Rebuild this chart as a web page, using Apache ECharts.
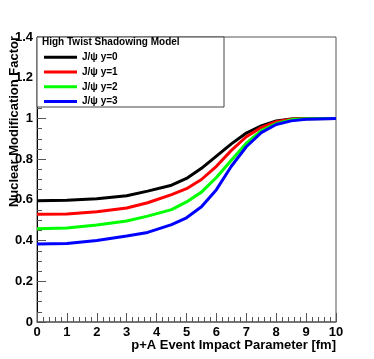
<!DOCTYPE html>
<html>
<head>
<meta charset="utf-8">
<script src="https://cdn.jsdelivr.net/npm/echarts@6/dist/echarts.min.js"></script>
<style>html,body{margin:0;padding:0;background:#fff}#c{width:374px;height:359px}</style>
</head>
<body>
<div id="c"></div>
<script>
var impactParams = [0, 1, 2, 3, 3.7, 4.5, 5, 5.5, 6, 6.5, 7, 7.5, 8, 8.5, 9, 10];
var y0 = [0.596, 0.598, 0.606, 0.620, 0.643, 0.672, 0.705, 0.755, 0.815, 0.875, 0.928, 0.963, 0.988, 0.997, 1.000, 1.000];
var y1 = [0.529, 0.530, 0.542, 0.560, 0.586, 0.626, 0.655, 0.700, 0.765, 0.843, 0.910, 0.955, 0.984, 0.996, 0.999, 1.000];
var y2 = [0.458, 0.462, 0.476, 0.496, 0.520, 0.552, 0.590, 0.638, 0.710, 0.795, 0.878, 0.940, 0.975, 0.993, 0.998, 1.000];
var y3 = [0.383, 0.386, 0.400, 0.422, 0.440, 0.478, 0.512, 0.566, 0.650, 0.765, 0.861, 0.930, 0.970, 0.988, 0.996, 1.000];
var seriesNames = ['J/\u03c8 y=0', 'J/\u03c8 y=1', 'J/\u03c8 y=2', 'J/\u03c8 y=3'];
var seriesColors = ['#000000', '#ff0000', '#00ff00', '#0000ff'];
var seriesValues = [y0, y1, y2, y3];

function pairs(xs, ys) { return xs.map(function (x, i) { return [x, ys[i]]; }); }

var chart = echarts.init(document.getElementById('c'), null, { renderer: 'canvas' });
var font = 'Liberation Sans, Arial, Helvetica, sans-serif';
chart.setOption({
  animation: false,
  backgroundColor: '#ffffff',
  grid: { left: 37, top: 37, width: 299, height: 285, show: true, borderColor: '#555', borderWidth: 1, backgroundColor: 'transparent', containLabel: false, outerBoundsMode: 'none' },
  xAxis: {
    type: 'value', min: 0, max: 10, interval: 1,
    name: 'p+A Event Impact Parameter [fm]', nameLocation: 'end', nameGap: 0, nameMoveOverlap: false,
    nameTextStyle: { fontFamily: font, fontWeight: 'bold', fontSize: 13, color: '#000', align: 'right', verticalAlign: 'top', padding: [17, 0, 0, 0] },
    axisLine: { show: true, lineStyle: { color: '#666', width: 1.5 } },
    axisTick: { show: true, inside: true, length: 9, lineStyle: { color: '#555' } },
    minorTick: { show: true, splitNumber: 5, length: 5, lineStyle: { color: '#555' } },
    axisLabel: { fontFamily: font, fontWeight: 'bold', fontSize: 13, color: '#000', margin: 4 },
    splitLine: { show: false }
  },
  yAxis: {
    type: 'value', min: 0, max: 1.4, interval: 0.2,
    name: 'Nuclear Modification Factor', nameLocation: 'middle', nameGap: 16, nameMoveOverlap: false,
    nameTextStyle: { fontFamily: font, fontWeight: 'bold', fontSize: 13, color: '#000', padding: [0, 0, 0, 116] },
    axisLine: { show: true, lineStyle: { color: '#000', width: 1 } },
    axisTick: { show: true, inside: true, length: 9, lineStyle: { color: '#555' } },
    minorTick: { show: true, splitNumber: 4, length: 5, lineStyle: { color: '#555' } },
    axisLabel: { fontFamily: font, fontWeight: 'bold', fontSize: 13, color: '#000', margin: 4 },
    splitLine: { show: false }
  },
  graphic: [
    { type: 'rect', z: 3, shape: { x: 37, y: 37, width: 187, height: 70 }, style: { fill: '#fff', stroke: '#444', lineWidth: 1 } },
    { type: 'text', z: 5, left: 42, top: 37, style: { text: 'High Twist Shadowing Model', fontFamily: font, fontWeight: 'bold', fontSize: 10, fill: '#000' } }
  ],
  legend: {
    z: 6, orient: 'vertical', left: 44, top: 50, padding: 0, itemGap: 0,
    itemWidth: 33, itemHeight: 3, icon: 'rect',
    textStyle: { fontFamily: font, fontWeight: 'bold', fontSize: 10, color: '#000', lineHeight: 14.7 },
    data: seriesNames
  },
  series: seriesValues.map(function (vals, i) {
    return {
      type: 'line', name: seriesNames[i], data: pairs(impactParams, vals),
      showSymbol: false, symbol: 'none', smooth: false,
      lineStyle: { color: seriesColors[i], width: 3 }, itemStyle: { color: seriesColors[i] }
    };
  })
});
</script>
</body>
</html>
